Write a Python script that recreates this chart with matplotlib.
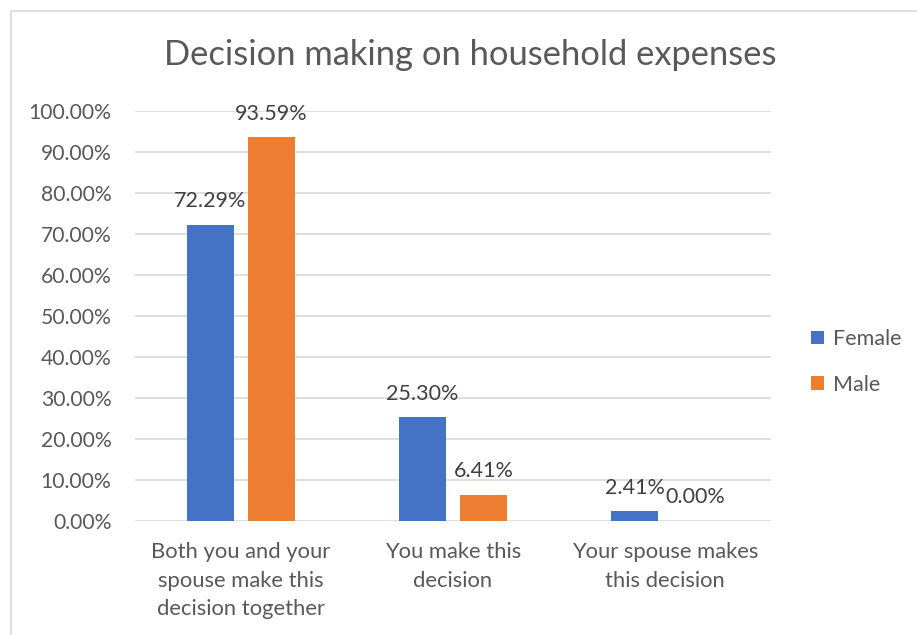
import matplotlib
matplotlib.use("Agg")
import matplotlib.pyplot as plt
from matplotlib.patches import Rectangle
import numpy as np

plt.rcParams['font.family'] = ['Lato', 'DejaVu Sans']

categories = ["Both you and your\nspouse make this\ndecision together",
              "You make this\ndecision",
              "Your spouse makes\nthis decision"]
female = [72.29, 25.30, 2.41]
male = [93.59, 6.41, 0.00]
series_names = ["Female", "Male"]
yticks = [0, 10, 20, 30, 40, 50, 60, 70, 80, 90, 100]

BLUE = "#4472C4"
ORANGE = "#ED7D31"
GRID = "#D9D9D9"
TEXT = "#595959"
LABEL = "#404040"

fig = plt.figure(figsize=(9.17, 6.35), dpi=100)
fig.patch.set_facecolor("white")

# chart frame (extends past the right and bottom edges)
fig.add_artist(Rectangle((11 / 917, -0.05), 1.0, 1 - 11 / 635 + 0.05,
                         transform=fig.transFigure, fill=False,
                         edgecolor=GRID, linewidth=1.2))

ax = fig.add_axes([135 / 917, 1 - 521 / 635, 636 / 917, 410 / 635])
x = np.arange(len(categories))
w = 0.222
off = 0.144
b1 = ax.bar(x - off, female, w, color=BLUE, label=series_names[0], zorder=3)
b2 = ax.bar(x + off, male, w, color=ORANGE, label=series_names[1], zorder=3)

for bars, vals in ((b1, female), (b2, male)):
    for rect, v in zip(bars, vals):
        ax.annotate(f"{v:.2f}%", (rect.get_x() + rect.get_width() / 2, v),
                    xytext=(0, 17), textcoords="offset points",
                    ha="center", va="center", fontsize=15.5, color=LABEL)

ax.set_xlim(-0.5, 2.5)
ax.set_ylim(0, 100)
ax.set_yticks(yticks)
ax.set_yticklabels([f"{t:.2f}%" for t in yticks])
ax.set_xticks(x)
ax.set_xticklabels(categories, linespacing=1.55)
ax.tick_params(axis="both", length=0, labelsize=15.2, colors=TEXT)
ax.tick_params(axis="x", labelsize=15.8)
ax.tick_params(axis="y", pad=17)
ax.tick_params(axis="x", pad=15)
ax.yaxis.grid(True, color=GRID, linewidth=1.2, zorder=0)
for s in ax.spines.values():
    s.set_visible(False)

fig.text(470 / 917, 1 - 55 / 635, "Decision making on household expenses",
         ha="center", va="center", fontsize=24.8, color=TEXT)

leg = fig.legend(loc="center left", bbox_to_anchor=(792 / 917, 1 - 362 / 635),
                 frameon=False, fontsize=15.5, handlelength=0.6,
                 handleheight=0.6, handletextpad=0.4, labelspacing=1.2,
                 labelcolor=TEXT)

fig.savefig("out.png", dpi=100, facecolor="white")
